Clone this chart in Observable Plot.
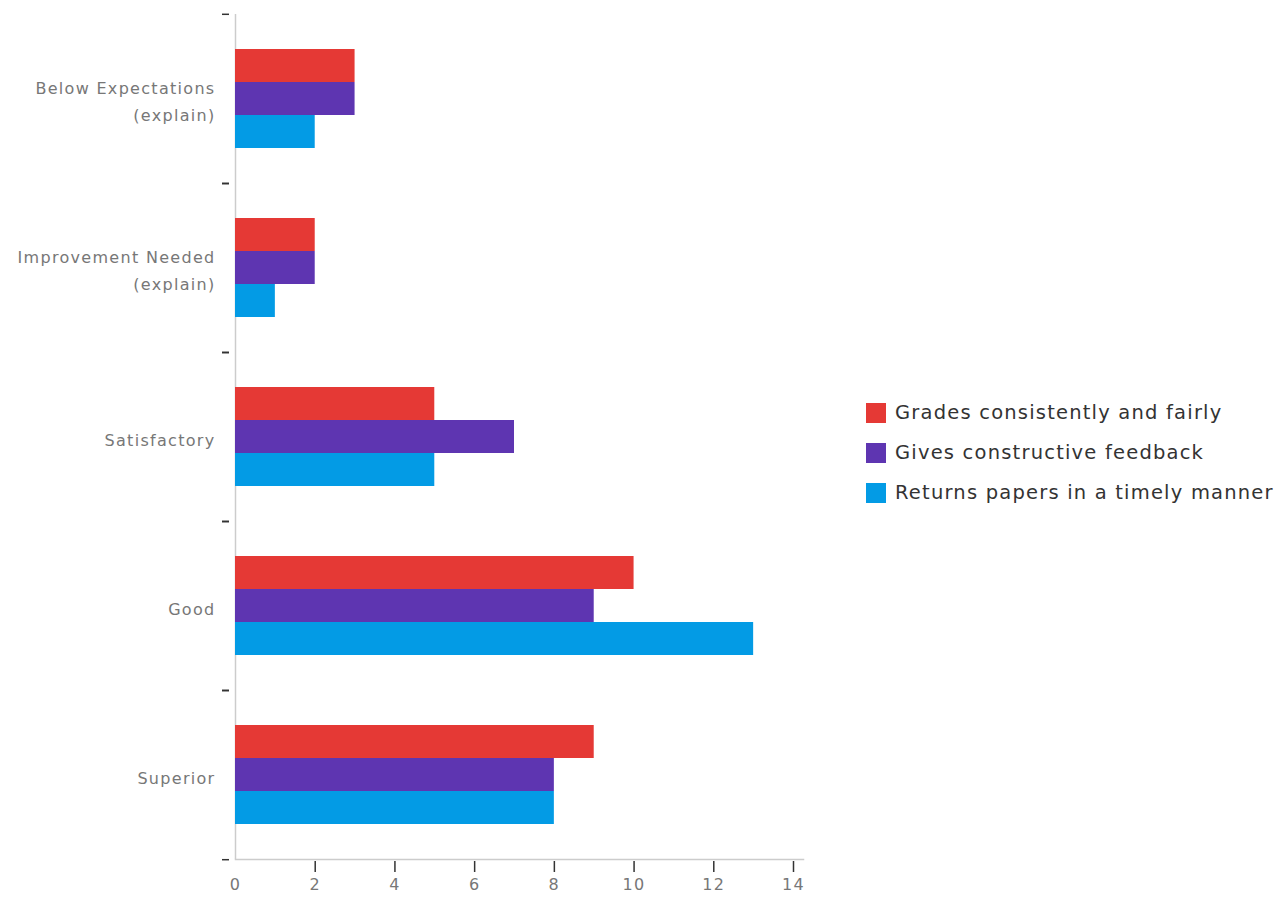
<!DOCTYPE html>
<html><head><meta charset="utf-8">
<script src="https://cdn.jsdelivr.net/npm/d3@7"></script>
<script src="https://cdn.jsdelivr.net/npm/@observablehq/plot@0.6"></script>
<style>
body{margin:0;background:#fff;font-family:"DejaVu Sans",sans-serif}
#wrap{display:flex;align-items:center;width:1285px;height:899px}
#legend{margin-left:46px;margin-top:6px}
.item{display:flex;align-items:center;height:40px;font-size:19.5px;letter-spacing:1.2px;color:#333;white-space:nowrap}
.sw{width:20px;height:20px;margin-right:9px;flex:none}
</style></head><body><div id="wrap"><div id="chart"></div><div id="legend"></div></div>
<script>
const categories = ["Below Expectations (explain)", "Improvement Needed (explain)", "Satisfactory", "Good", "Superior"];
const series = ["Grades consistently and fairly", "Gives constructive feedback", "Returns papers in a timely manner"];
const colors = ["#e53935", "#5e35b1", "#039be5"];
const grades = [3, 2, 5, 10, 9];
const feedback = [3, 2, 7, 9, 8];
const returns = [2, 1, 5, 13, 8];
const xTicks = [0, 2, 4, 6, 8, 10, 12, 14];

const valuesBySeries = [grades, feedback, returns];
const data = [];
categories.forEach((c, i) => series.forEach((s, j) => data.push({category: c, series: s, value: valuesBySeries[j][i]})));

const W = 820, H = 899, mt = 13, mb = 39, ml = 235, mr = 27;
const step = (H - mt - mb) / categories.length;
const gray = "#777";

const chart = Plot.plot({
  width: W, height: H,
  marginLeft: ml, marginRight: mr, marginTop: mt, marginBottom: mb,
  style: {fontFamily: "'DejaVu Sans', sans-serif", background: "#fff", letterSpacing: "1.3px"},
  x: {domain: [0, 14], axis: null, label: null},
  y: {domain: series, paddingInner: 0, paddingOuter: 1, axis: null, label: null},
  fy: {domain: categories, padding: 0, axis: null, label: null},
  color: {domain: series, range: colors},
  marks: [
    Plot.ruleX([0], {stroke: "#ccc", strokeWidth: 1.5}),
    Plot.frame({anchor: "bottom", fy: [categories[categories.length - 1]], stroke: "#ccc", strokeWidth: 1.5, insetRight: -10}),
    Plot.barX(data, {x: "value", y: "series", fy: "category", fill: "series"}),
    Plot.axisX({ticks: xTicks.filter(d => d > 0), tickSize: 11, dy: 2, label: null, tickFormat: () => "", stroke: "#333", strokeWidth: 1.5}),
    Plot.axisX({ticks: xTicks, tickSize: 0, tickPadding: 19, label: null, fontSize: 16, fill: gray}),
    Plot.axisFy({anchor: "left", label: null, tickSize: 0, tickPadding: 20, fontSize: 16, fill: gray, lineHeight: 1.7,
      tickFormat: d => d.replace(" (", "\n(")}),
    Plot.axisFy({anchor: "left", label: null, tickSize: 7, dx: -6, dy: -step / 2, tickFormat: () => "", stroke: "#333", strokeWidth: 1.5}),
    Plot.axisFy({anchor: "left", label: null, tickSize: 7, dx: -6, dy: step / 2, tickFormat: () => "", stroke: "#333", strokeWidth: 1.5})
  ]
});
document.getElementById("chart").appendChild(chart);

const legend = document.getElementById("legend");
series.forEach((s, i) => {
  const it = document.createElement("div");
  it.className = "item";
  it.innerHTML = `<div class="sw" style="background:${colors[i]}"></div><span>${s}</span>`;
  legend.appendChild(it);
});
</script></body></html>
